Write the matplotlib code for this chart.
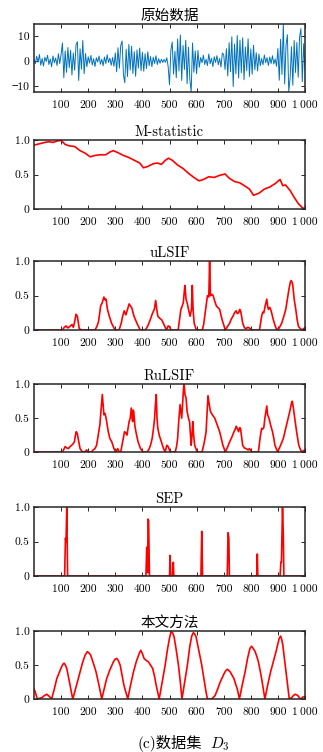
import numpy as np
import matplotlib
matplotlib.use("Agg")
import matplotlib.pyplot as plt

plt.rcParams['font.family'] = ['cmr10', 'Noto Sans CJK SC', 'DejaVu Sans']
plt.rcParams['mathtext.fontset'] = 'cm'

# raw signal, one value every 5 samples
raw_t = list(range(0, 1000, 5)) + [1000]
raw_y = [
    0.5, -1.2, 1.8, -0.6, 2.5, -1.8, 0.9, -2.1, 1.4, -0.3, 2.2, -1.5, 0.7, -2.4, 1.9, -0.8, 1.1, -1.9, 2.8, -1.1,
    2.6, 7.1, -6.8, 3.9, -4.6, 5.3, -2.8, 4.2, -5.7, 3.1, -3.8, 6.4, 7.6, -7.9, 4.8, -3.4, 8.1, -5.2, 2.9, -2.4,
    1.6, -0.9, 2.1, -1.7, 0.8, -2.3, 1.2, -0.5, 1.9, -1.4, 0.6, -2.0, 1.5, -1.1, 2.4, -0.7, 1.0, -1.8, 1.3, -2.2,
    3.1, -4.4, 5.2, -3.0, 6.1, 7.9, -5.5, -8.8, 4.6, -6.3, 6.5, -3.7, 5.8, -5.1, 3.6, -6.2, 4.3, -2.9, 5.1, -4.0,
    3.4, -4.2, 2.8, -3.1, 3.6, -2.0, 1.7, -2.4, 1.4, -1.1, 2.0, -1.5, 0.8, -1.0, 0.6, -0.7, 0.5, -0.6, 1.2, -2.3,
    -9.6, 4.2, 7.5, -5.3, 3.8, -6.8, 8.7, -4.1, 10.3, -7.9, 6.1, -3.5, 8.2, -9.2, 5.4, -7.4, -12.4, 7.1, -4.6, 3.9,
    -5.2, 4.1, -2.6, 1.3, -0.8, 2.2, -1.5, 0.6, -1.9, 2.7, -1.2, 1.0, -2.3, 1.6, -0.7, 2.0, -1.6, 0.9, -2.5, 3.1,
    2.4, -3.5, 4.8, -6.1, 7.2, -4.4, 9.6, -10.3, 6.7, -5.2, 10.1, -6.9, 8.3, -4.8, 9.2, -7.6, 5.5, -3.9, 8.8, -6.3,
    4.7, -5.4, 6.2, -3.6, 3.2, -4.1, 2.7, -2.0, 0.9, -1.6, 2.3, -0.8, 1.2, -1.9, 1.5, -1.1, 2.0, -1.3, 0.7, -2.2,
    4.9, -7.8, 8.6, -5.5, 14.8, -9.3, 6.2, 10.4, -12.3, -7.1, 5.6, -9.8, 8.1, -4.7, 7.3, -6.6, 9.4, 12.9, -8.4, 6.8,
    -3.9,
]

mstat_t = [0, 20, 40, 55, 70, 85, 100, 115, 130, 150, 170, 190, 207, 225, 245, 265, 280,
           293, 310, 330, 350, 370, 390, 404, 420, 440, 455, 470, 485, 496, 510, 530,
           550, 570, 590, 609, 625, 645, 665, 685, 705, 720, 740, 760, 780, 795, 810,
           830, 850, 870, 890, 908, 918, 928, 945, 960, 975, 990, 1000]
mstat_y = [0.93, 0.95, 0.97, 0.98, 0.97, 0.99, 1.0, 0.94, 0.92, 0.91, 0.85, 0.81, 0.76, 0.78, 0.79, 0.79, 0.83,
           0.85, 0.82, 0.78, 0.75, 0.71, 0.67, 0.60, 0.62, 0.66, 0.67, 0.65, 0.71, 0.74, 0.71, 0.64,
           0.59, 0.52, 0.46, 0.41, 0.43, 0.47, 0.46, 0.49, 0.51, 0.45, 0.40, 0.38, 0.33, 0.29, 0.20,
           0.23, 0.29, 0.32, 0.37, 0.43, 0.34, 0.35, 0.27, 0.17, 0.08, 0.02, 0.0]

# (sample, score) pairs
ulsif = [(0, 0), (105, 0), (110, 0.03), (118, 0.06), (125, 0.03), (132, 0.05), (140, 0.08), (145, 0.04),
         (150, 0.12), (155, 0.23), (160, 0.2), (167, 0.02), (175, 0), (225, 0), (232, 0.05), (238, 0.12),
         (246, 0.35), (252, 0.4), (258, 0.48), (262, 0.44), (266, 0.45), (271, 0.3), (278, 0.2), (286, 0.1),
         (299, 0), (314, 0), (322, 0.1), (327, 0.2), (333, 0.28), (339, 0.22), (345, 0.3), (351, 0.38),
         (356, 0.35), (361, 0.32), (369, 0.2), (382, 0.08), (392, 0), (411, 0), (420, 0.06), (429, 0.15),
         (435, 0.22), (439, 0.26), (444, 0.3), (449, 0.43), (453, 0.3), (457, 0.2), (464, 0.17), (471, 0.15),
         (483, 0.05), (489, 0), (495, 0.06), (500, 0.05), (505, 0), (532, 0), (537, 0.15), (542, 0.3),
         (547, 0.35), (551, 0.4), (555, 0.58), (557, 0.65), (561, 0.45), (566, 0.38), (570, 0.3), (576, 0.2),
         (581, 0.3), (584, 0.65), (587, 0.3), (591, 0.1), (599, 0), (621, 0), (626, 0.08), (630, 0.2),
         (636, 0.38), (640, 0.5), (645, 0.48), (648, 1.0), (651, 0.5), (656, 0.52), (661, 0.5), (667, 0.42),
         (673, 0.35), (680, 0.32), (685, 0.3), (694, 0.15), (706, 0), (714, 0.05), (722, 0.1), (728, 0.16),
         (734, 0.2), (740, 0.25), (746, 0.28), (750, 0.24), (755, 0.25), (759, 0.3), (762, 0.28), (766, 0.2),
         (770, 0.1), (777, 0.03), (783, 0.02), (789, 0.04), (795, 0.03), (804, 0), (832, 0), (836, 0.1),
         (840, 0.2), (844, 0.26), (848, 0.25), (853, 0.35), (859, 0.45), (862, 0.35), (865, 0.3), (870, 0.33),
         (875, 0.28), (883, 0.15), (890, 0.06), (896, 0), (905, 0.03), (914, 0.1), (922, 0.2), (929, 0.3),
         (935, 0.45), (941, 0.6), (946, 0.7), (949, 0.72), (952, 0.7), (955, 0.65), (960, 0.45), (966, 0.3),
         (971, 0.15), (976, 0.05), (988, 0), (995, 0.02), (1000, 0.03)]

rulsif = [(0, 0), (105, 0), (110, 0.04), (115, 0.08), (121, 0.06), (127, 0.05), (133, 0.08), (139, 0.1),
          (144, 0.12), (149, 0.15), (153, 0.25), (156, 0.3), (160, 0.27), (163, 0.2), (170, 0.05), (179, 0),
          (187, 0), (194, 0.03), (200, 0), (212, 0), (218, 0.03), (225, 0.05), (231, 0.1), (237, 0.25),
          (243, 0.4), (248, 0.65), (252, 0.85), (255, 0.7), (258, 0.55), (262, 0.57), (266, 0.5), (274, 0.3),
          (280, 0.2), (287, 0.15), (295, 0.05), (302, 0), (309, 0.05), (314, 0), (320, 0), (327, 0.15),
          (334, 0.3), (339, 0.28), (343, 0.25), (347, 0.35), (351, 0.45), (355, 0.5), (359, 0.65), (362, 0.5),
          (364, 0.45), (366, 0.62), (368, 0.6), (372, 0.4), (376, 0.3), (384, 0.15), (393, 0.05), (403, 0),
          (418, 0), (424, 0.04), (430, 0.1), (436, 0.2), (441, 0.35), (445, 0.5), (448, 0.7), (451, 0.85),
          (454, 0.5), (457, 0.35), (462, 0.25), (466, 0.2), (472, 0.12), (478, 0.05), (484, 0), (490, 0.1),
          (495, 0.08), (503, 0), (521, 0), (526, 0.08), (530, 0.2), (534, 0.45), (539, 0.7), (542, 0.6),
          (545, 0.5), (549, 0.75), (552, 0.95), (554, 1.0), (557, 0.85), (561, 0.8), (565, 0.6), (570, 0.5),
          (574, 0.45), (578, 0.2), (580, 0.1), (583, 0.25), (586, 0.45), (589, 0.25), (593, 0.1), (602, 0),
          (620, 0), (626, 0.1), (631, 0.2), (635, 0.3), (639, 0.6), (642, 0.83), (646, 0.72), (651, 0.6),
          (658, 0.55), (667, 0.5), (676, 0.4), (685, 0.3), (691, 0.2), (697, 0.1), (706, 0), (714, 0.07),
          (722, 0.15), (730, 0.22), (738, 0.3), (742, 0.33), (746, 0.38), (750, 0.35), (755, 0.3), (759, 0.36),
          (762, 0.35), (766, 0.22), (770, 0.1), (776, 0.06), (783, 0.05), (790, 0.03), (795, 0.05), (804, 0),
          (828, 0), (834, 0.2), (840, 0.35), (844, 0.34), (848, 0.36), (852, 0.5), (856, 0.6), (859, 0.68),
          (862, 0.55), (867, 0.5), (873, 0.4), (880, 0.3), (885, 0.2), (889, 0.1), (899, 0), (910, 0.1),
          (920, 0.2), (929, 0.35), (938, 0.5), (945, 0.62), (950, 0.72), (953, 0.75), (956, 0.68), (962, 0.5),
          (969, 0.3), (977, 0.1), (987, 0), (995, 0.02), (1000, 0.03)]

sep = [(0, 0), (113, 0), (116, 0.55), (118, 0.5), (121, 1.0), (124, 0), (413, 0), (416, 0.42), (419, 0.05),
       (421, 0.83), (423, 0.8), (426, 0), (500, 0), (502, 0.3), (505, 0), (512, 0), (514, 0.2), (516, 0),
       (616, 0), (619, 0.65), (622, 0), (713, 0), (716, 0.63), (719, 0.55), (721, 0), (822, 0), (824, 0.32),
       (826, 0), (908, 0), (911, 0.2), (913, 0.2), (917, 1.0), (920, 0.6), (922, 0), (1000, 0)]

ours = [(0, 0.15), (5, 0.1), (12, 0), (20, 0.01), (29, 0.02), (38, 0.05), (47, 0.07), (56, 0.04), (65, 0),
        (75, 0.15), (84, 0.3), (92, 0.38), (99, 0.45), (106, 0.51), (111, 0.53), (116, 0.5), (121, 0.45),
        (127, 0.33), (133, 0.2), (138, 0.1), (143, 0), (150, 0.1), (160, 0.25), (170, 0.4), (180, 0.55),
        (189, 0.65), (197, 0.7), (203, 0.68), (209, 0.65), (219, 0.53), (229, 0.4), (240, 0.2), (250, 0),
        (259, 0.15), (268, 0.3), (280, 0.43), (293, 0.55), (300, 0.59), (305, 0.6), (311, 0.57), (318, 0.5),
        (325, 0.35), (332, 0.2), (346, 0), (356, 0.2), (367, 0.4), (378, 0.56), (389, 0.68), (394, 0.72),
        (400, 0.67), (406, 0.6), (414, 0.57), (422, 0.55), (430, 0.5), (438, 0.45), (445, 0.33), (451, 0.2),
        (462, 0), (473, 0.25), (484, 0.5), (492, 0.72), (500, 0.9), (506, 1.0), (511, 0.98), (517, 0.92),
        (525, 0.72), (533, 0.5), (540, 0.25), (546, 0), (556, 0.25), (566, 0.5), (575, 0.78), (582, 0.93),
        (588, 0.98), (593, 0.96), (598, 0.92), (608, 0.72), (619, 0.5), (628, 0.28), (635, 0.1), (640, 0),
        (656, 0), (668, 0.05), (678, 0.15), (687, 0.25), (695, 0.32), (702, 0.38), (708, 0.42), (714, 0.44),
        (719, 0.42), (724, 0.4), (731, 0.35), (738, 0.3), (744, 0.22), (750, 0.15), (758, 0), (768, 0.2),
        (779, 0.4), (788, 0.6), (797, 0.75), (803, 0.78), (810, 0.74), (816, 0.7), (822, 0.63), (828, 0.55),
        (834, 0.43), (840, 0.3), (852, 0), (862, 0.2), (873, 0.4), (883, 0.55), (893, 0.7), (900, 0.82),
        (905, 0.9), (910, 0.93), (914, 0.88), (918, 0.8), (924, 0.6), (930, 0.4), (936, 0.2), (942, 0),
        (951, 0.02), (957, 0.05), (963, 0.07), (970, 0.06), (976, 0.04), (982, 0), (987, 0.01), (992, 0.03),
        (1000, 0.03)]

titles = ['原始数据', 'M-statistic', 'uLSIF', 'RuLSIF', 'SEP', '本文方法']
xticks = [100, 200, 300, 400, 500, 600, 700, 800, 900, 1000]
xticklabels = ['100', '200', '300', '400', '500', '600', '700', '800', '900', '1\u2009000']
raw_yticklabels = ['\u221210', '0', '10']
score_yticklabels = ['0', '0.5', '1.0']
caption_text = '(c)数据集'
caption_math = '$D_3$'

# axes boxes in pixels: (top, bottom)
boxes = [(24, 92), (140, 209), (261, 330), (384, 452), (507, 576), (631, 699)]
W, H = 323, 752
left, right = 34, 305

fig = plt.figure(figsize=(W / 100, H / 100), dpi=100)

series = [
    (raw_t, raw_y),
    (mstat_t, mstat_y),
    tuple(np.array(ulsif).T),
    tuple(np.array(rulsif).T),
    tuple(np.array(sep).T),
    tuple(np.array(ours).T),
]

for i, (top, bot) in enumerate(boxes):
    ax = fig.add_axes([left / W, 1 - bot / H, (right - left) / W, (bot - top) / H])
    t, y = series[i]
    if i == 0:
        ax.plot(t, y, color='#0072BD', lw=0.7)
        ax.set_ylim(-12.5, 14.7)
        ax.set_yticks([-10, 0, 10])
        ax.set_yticklabels(raw_yticklabels)
    else:
        ax.plot(t, y, color='#FF0000', lw=1.2)
        ax.set_ylim(0, 1.005)
        ax.set_yticks([0, 0.5, 1.0])
        ax.set_yticklabels(score_yticklabels)
    ax.set_xlim(0, 1000)
    ax.set_xticks(xticks)
    ax.set_xticklabels(xticklabels)
    ax.set_title(titles[i], fontsize=10.5, pad=3)
    ax.tick_params(direction='in', top=True, right=True, length=3, width=0.7,
                   labelsize=8.3, colors='#262626', labelcolor='black')
    ax.tick_params(axis='x', pad=6)
    ax.tick_params(axis='y', pad=3)
    for s in ax.spines.values():
        s.set_linewidth(1.1)
        s.set_color('#262626')

# caption: chinese part and the math part drawn side by side
fig.text(202 / W, 1 - 744 / H, caption_text, ha='right', va='center', fontsize=11)
fig.text(210 / W, 1 - 744 / H, caption_math, ha='left', va='center', fontsize=11)

fig.savefig('out.png', dpi=100)
